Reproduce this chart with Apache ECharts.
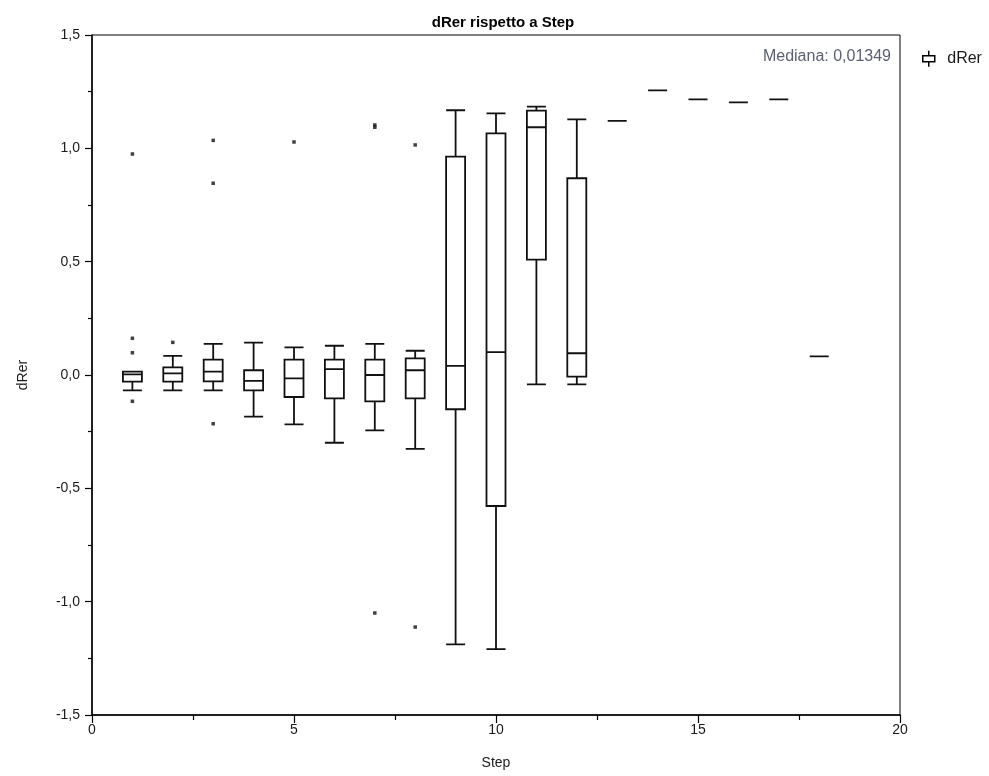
<!DOCTYPE html>
<html>
<head>
<meta charset="utf-8">
<script src="https://cdn.jsdelivr.net/npm/echarts@6/dist/echarts.min.js"></script>
<style>
html,body{margin:0;padding:0;background:#fff;}
#chart{width:989px;height:776px;}
</style>
</head>
<body>
<div id="chart"></div>
<script>
// ---- Data ----
const steps        = [1, 2, 3, 4, 5, 6, 7, 8, 9, 10, 11, 12, 13, 14, 15, 16, 17, 18];
const whiskerLow   = [-0.068, -0.068, -0.068, -0.184, -0.218, -0.299, -0.244, -0.326, -1.188, -1.209, -0.041, -0.041, 1.121, 1.256, 1.216, 1.203, 1.216, 0.082];
const q1           = [-0.029, -0.029, -0.028, -0.068, -0.097, -0.103, -0.116, -0.103, -0.151, -0.578, 0.509, -0.007, 1.121, 1.256, 1.216, 1.203, 1.216, 0.082];
const median       = [0.003, 0.007, 0.015, -0.026, -0.015, 0.026, 0.000, 0.021, 0.040, 0.101, 1.093, 0.096, 1.121, 1.256, 1.216, 1.203, 1.216, 0.082];
const q3           = [0.015, 0.034, 0.068, 0.021, 0.068, 0.068, 0.068, 0.073, 0.963, 1.066, 1.166, 0.868, 1.121, 1.256, 1.216, 1.203, 1.216, 0.082];
const whiskerHigh  = [0.015, 0.084, 0.137, 0.143, 0.122, 0.129, 0.137, 0.107, 1.168, 1.154, 1.184, 1.128, 1.121, 1.256, 1.216, 1.203, 1.216, 0.082];

const outlierSteps  = [1, 1, 1, 1, 2, 3, 3, 3, 5, 7, 7, 7, 8, 8];
const outlierValues = [0.975, 0.162, 0.098, -0.116, 0.144, 1.035, 0.846, -0.215, 1.028, 1.103, 1.093, -1.050, 1.015, -1.112];

const yTicks = [-1.5, 1.5, 0.5];   // min, max, interval
const xTicks = [0, 20, 5];
const medianText = 'Mediana: 0,01349';
const titleText = 'dRer rispetto a Step';

// ---- Build series data ----
const boxData = steps.map((s, i) => [s, whiskerLow[i], q1[i], median[i], q3[i], whiskerHigh[i]]);
const outlierData = outlierSteps.map((s, i) => [s, outlierValues[i]]);

const chart = echarts.init(document.getElementById('chart'), null, {renderer: 'canvas'});
const fmt = v => (Math.round(v * 10) / 10).toFixed(1).replace('.', ',');
const FONT = '"Liberation Sans", Arial, sans-serif';
const TXT = '#1a1a1a';

chart.setOption({
  animation: false,
  backgroundColor: '#ffffff',
  title: {
    text: titleText,
    left: 498, top: 10, textAlign: 'center',
    textStyle: {fontFamily: FONT, fontWeight: 'bold', fontSize: 15, color: '#000'}
  },
  legend: {
    data: [{name: 'dRer', icon: 'path://M0,5 L12,5 L12,11 L0,11 Z M6,0 L6,5 M6,11 L6,16'}],
    left: 917, top: 45,
    itemWidth: 13, itemHeight: 16, itemGap: 8,
    itemStyle: {color: '#ffffff', borderColor: '#000', borderWidth: 1.5},
    textStyle: {fontFamily: FONT, fontSize: 16, color: TXT, padding: [0, 0, 0, 7]}
  },
  grid: {
    left: 92, right: 89, top: 35, bottom: 61,
    outerBoundsMode: 'none', containLabel: false,
    show: true, borderColor: '#000', borderWidth: 1, backgroundColor: 'transparent'
  },
  xAxis: {
    type: 'value',
    min: xTicks[0], max: xTicks[1], interval: xTicks[2],
    name: 'Step', nameLocation: 'middle', nameGap: 41,
    nameTextStyle: {fontFamily: FONT, fontSize: 14, color: TXT},
    axisLine: {show: true, onZero: false, lineStyle: {color: '#000', width: 1.5}},
    axisTick: {show: true, length: 8, lineStyle: {color: '#000', width: 1.2}},
    minorTick: {show: true, splitNumber: 2, length: 5, lineStyle: {color: '#000', width: 1.2}},
    axisLabel: {fontFamily: FONT, fontSize: 14, color: TXT, margin: 8},
    splitLine: {show: false}
  },
  yAxis: {
    type: 'value',
    min: yTicks[0], max: yTicks[1], interval: yTicks[2],
    name: 'dRer', nameLocation: 'middle', nameGap: 62, nameRotate: 90,
    nameTextStyle: {fontFamily: FONT, fontSize: 14, color: TXT},
    axisLine: {show: true, onZero: false, lineStyle: {color: '#000', width: 1.5}},
    axisTick: {show: true, length: 7, lineStyle: {color: '#000', width: 1.2}},
    minorTick: {show: true, splitNumber: 2, length: 4, lineStyle: {color: '#000', width: 1.2}},
    axisLabel: {fontFamily: FONT, fontSize: 14, color: TXT, margin: 12, formatter: fmt},
    splitLine: {show: false}
  },
  graphic: [{
    type: 'text',
    right: 98, top: 49,
    style: {text: medianText, fontFamily: FONT, fontSize: 16, fill: '#5b6070'}
  }],
  series: [
    {
      name: 'dRer',
      type: 'boxplot',
      data: boxData,
      encode: {x: 0, y: [1, 2, 3, 4, 5]},
      boxWidth: [19, 19],
      itemStyle: {color: '#ffffff', borderColor: '#111', borderWidth: 1.8},
      emphasis: {disabled: true}
    },
    {
      name: 'outliers',
      type: 'scatter',
      data: outlierData,
      symbol: 'rect',
      symbolSize: 3.5,
      itemStyle: {color: '#111'},
      emphasis: {disabled: true}
    }
  ]
});
</script>
</body>
</html>
